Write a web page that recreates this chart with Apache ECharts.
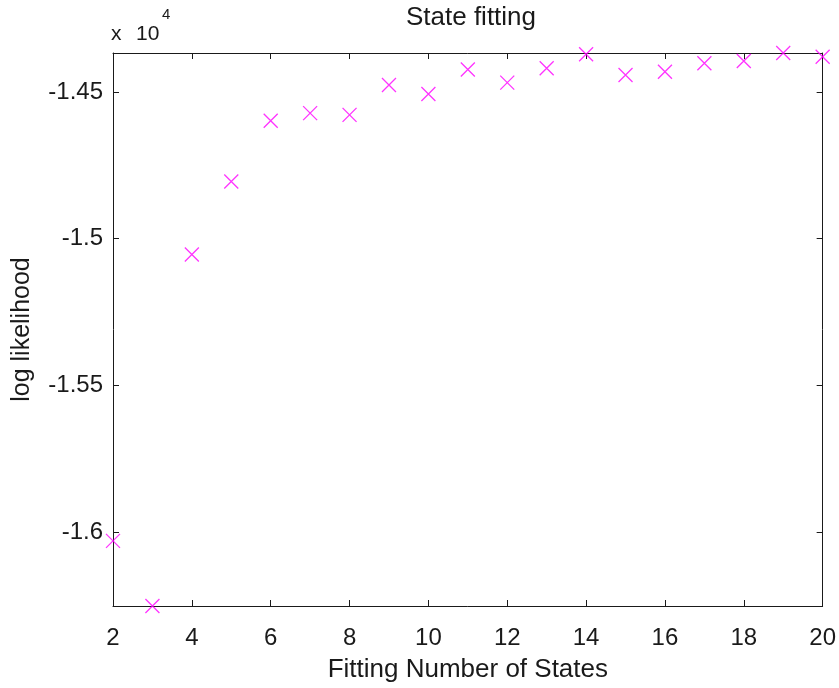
<!DOCTYPE html>
<html>
<head>
<meta charset="utf-8">
<script src="https://cdn.jsdelivr.net/npm/echarts@6/dist/echarts.min.js"></script>
<style>
  html, body { margin: 0; padding: 0; background: #fff; }
  #chart { width: 839px; height: 688px; }
</style>
</head>
<body>
<div id="chart"></div>
<script>
const states = [2, 3, 4, 5, 6, 7, 8, 9, 10, 11, 12, 13, 14, 15, 16, 17, 18, 19, 20];
const logLik = [-16030, -16252, -15054, -14805, -14598, -14572, -14578, -14476, -14507,
  -14423, -14468, -14419, -14371, -14442, -14431, -14402, -14394, -14367, -14380];
const yTicks = [-16000, -15500, -15000, -14500];

const font = '"Liberation Sans", Arial, sans-serif';
const ink = '#1a1a1a';
const yMin = Math.min(...logLik);
const yMax = Math.max(...logLik);

const chart = echarts.init(document.getElementById('chart'));

const xBase = {
  type: 'value',
  min: 2,
  max: 20,
  interval: 2,
  axisLine: { show: true, onZero: false, lineStyle: { color: ink, width: 1 } },
  axisTick: { show: true, inside: true, length: 6, lineStyle: { color: ink } },
  splitLine: { show: false }
};
const yBase = {
  type: 'value',
  min: yMin,
  max: yMax,
  axisLine: { show: true, onZero: false, lineStyle: { color: ink, width: 1 } },
  axisTick: { show: true, inside: true, length: 6, customValues: yTicks, lineStyle: { color: ink } },
  splitLine: { show: false }
};

function label(text, left, top, size) {
  return {
    type: 'text', left: left, top: top,
    style: { text: text, fontFamily: font, fontSize: size, fill: ink }
  };
}

chart.setOption({
  animation: false,
  title: {
    text: 'State fitting',
    left: 466,
    textAlign: 'center',
    top: 0,
    textStyle: { fontFamily: font, fontSize: 26, fontWeight: 'normal', color: ink }
  },
  grid: { left: 113, right: 16, top: 53, bottom: 81 },
  // exponent label above the y axis, like MATLAB's "x 10^4"
  graphic: [
    label('x', 111, 24, 21),
    label('10', 136, 24, 21),
    label('4', 162, 7, 15)
  ],
  xAxis: [
    Object.assign({}, xBase, {
      position: 'bottom',
      name: 'Fitting Number of States',
      nameLocation: 'middle',
      nameGap: 51,
      nameTextStyle: { fontFamily: font, fontSize: 26, color: ink },
      axisLabel: { show: true, margin: 20, fontFamily: font, fontSize: 24, color: ink }
    }),
    Object.assign({}, xBase, { position: 'top', axisLabel: { show: false } })
  ],
  yAxis: [
    Object.assign({}, yBase, {
      position: 'left',
      name: 'log likelihood',
      nameLocation: 'middle',
      nameGap: 78,
      nameTextStyle: { fontFamily: font, fontSize: 25, color: ink },
      axisLabel: {
        show: true, margin: 10, fontFamily: font, fontSize: 24, color: ink,
        customValues: yTicks,
        formatter: v => String(Math.round(v) / 10000)
      }
    }),
    Object.assign({}, yBase, { position: 'right', axisLabel: { show: false } })
  ],
  series: [{
    type: 'scatter',
    data: states.map((s, i) => [s, logLik[i]]),
    symbol: 'path://M0,0L10,10M10,0L0,10',
    symbolSize: 14,
    clip: false,
    itemStyle: { color: 'none', borderColor: '#ff00ff', borderWidth: 1.3 }
  }]
});
</script>
</body>
</html>
